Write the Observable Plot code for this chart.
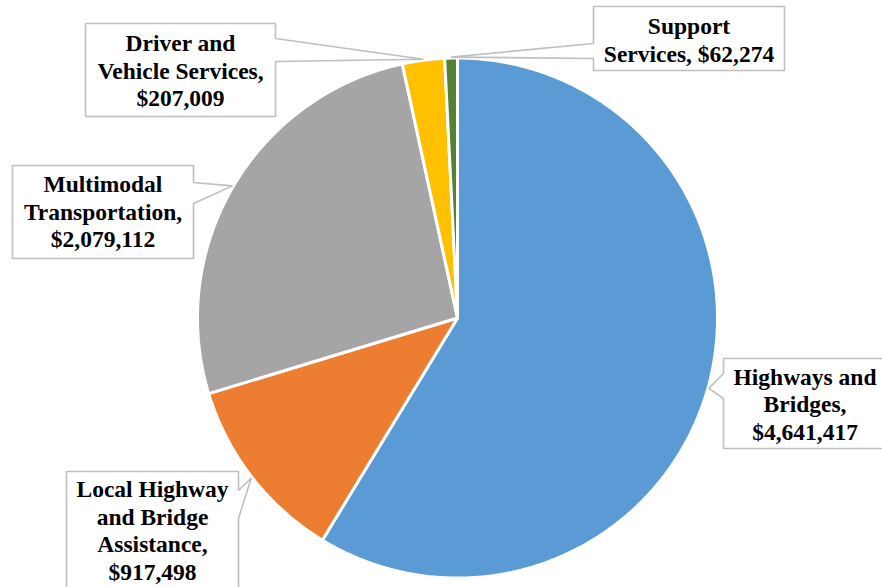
<!DOCTYPE html>
<html><head><meta charset="utf-8">
<script src="https://cdn.jsdelivr.net/npm/d3@7"></script>
<script src="https://cdn.jsdelivr.net/npm/@observablehq/plot@0.6"></script>
<style>
html,body{margin:0;padding:0;background:#fff}
#chart svg text{font-family:"Liberation Serif","Times New Roman",Times,serif !important;font-weight:bold}
</style>
</head><body><div id="chart"></div>
<script>
// ---- data ----
const categories = ["Highways and Bridges", "Local Highway and Bridge Assistance", "Multimodal Transportation", "Driver and Vehicle Services", "Support Services"];
const values = [4641417, 917498, 2079112, 207009, 62274];
const colors = ["#5B9BD5", "#ED7D31", "#A5A5A5", "#FFC000", "#548235"];
const labelTexts = [
  "Highways and\nBridges,\n$4,641,417",
  "Local Highway\nand Bridge\nAssistance,\n$917,498",
  "Multimodal\nTransportation,\n$2,079,112",
  "Driver and\nVehicle Services,\n$207,009",
  "Support\nServices, $62,274"
];

// ---- layout ----
const W = 882, H = 587;
const cx = 457, cy = 317.5, R = 260;
const callouts = [
  {box: [723, 358, 892, 448], side: "left",  base: [373, 398], tx: 804.5, ty: 403},
  {box: [66, 471, 238, 610],  side: "right", base: [490, 518], tx: 152,   ty: 529},
  {box: [12, 165, 193, 258],  side: "right", base: [182, 203], tx: 102.5, ty: 210.5},
  {box: [85, 23, 275, 116],   side: "right", base: [38, 61],   tx: 180,   ty: 69.5},
  {box: [593, 6, 784, 70],    side: "left",  base: [43, 58],   tx: 688.5, ty: 38.5}
];

const arcs = d3.pie().sort(null).value(d => d)(values);

// slice polygons
const slicePts = [];
arcs.forEach((a, i) => {
  const cat = categories[i];
  slicePts.push({cat, x: cx, y: cy});
  const n = Math.max(2, Math.ceil((a.endAngle - a.startAngle) / (Math.PI / 360)));
  for (let k = 0; k <= n; k++) {
    const t = a.startAngle + (a.endAngle - a.startAngle) * k / n;
    slicePts.push({cat, x: cx + R * Math.sin(t), y: cy - R * Math.cos(t)});
  }
});

// callout polygons
const calloutPts = [];
const textPts = [];
arcs.forEach((a, i) => {
  const c = callouts[i];
  const mid = (a.startAngle + a.endAngle) / 2;
  const tip = [cx + (R + 1) * Math.sin(mid), cy - (R + 1) * Math.cos(mid)];
  const [x0, y0, x1, y1] = c.box;
  const [b0, b1] = c.base;
  let pts;
  if (c.side === "right") {
    pts = [[x0, y0], [x1, y0], [x1, b0], tip, [x1, b1], [x1, y1], [x0, y1]];
  } else {
    pts = [[x0, y0], [x1, y0], [x1, y1], [x0, y1], [x0, b1], tip, [x0, b0]];
  }
  pts.forEach(p => calloutPts.push({cat: categories[i], x: p[0], y: p[1]}));
  textPts.push({cat: categories[i], label: labelTexts[i], x: c.tx, y: c.ty});
});

const chart = Plot.plot({
  width: W, height: H, margin: 0,
  style: {background: "#fff"},
  x: {domain: [0, W], range: [0, W], axis: null},
  y: {domain: [0, H], range: [0, H], axis: null},
  color: {domain: categories, range: colors},
  marks: [
    Plot.line(slicePts, {x: "x", y: "y", z: "cat", fill: "cat", stroke: "white", strokeWidth: 3, strokeLinejoin: "miter", curve: "linear-closed"}),
    Plot.line(calloutPts, {x: "x", y: "y", z: "cat", fill: "white", stroke: "#BFBFBF", strokeWidth: 1.6, strokeLinejoin: "miter", curve: "linear-closed"}),
    Plot.text(textPts, {x: "x", y: "y", text: "label", fill: "black", fontSize: 23.5, fontWeight: "bold", fontFamily: "'Liberation Serif', serif", lineHeight: 1.17, textAnchor: "middle", lineAnchor: "middle"})
  ]
});
document.getElementById("chart").appendChild(chart);
</script>
</body></html>
